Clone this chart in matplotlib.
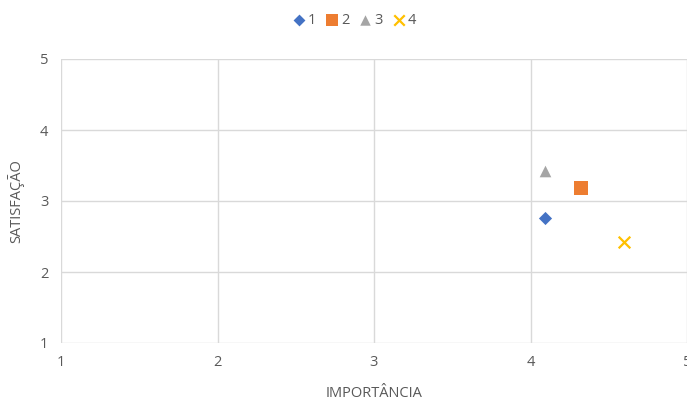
import matplotlib.pyplot as plt

plt.rcParams['font.family'] = ['Open Sans', 'DejaVu Sans']

# dados
series = ['1', '2', '3', '4']
importancia = [4.09, 4.32, 4.09, 4.60]
satisfacao = [2.76, 3.18, 3.42, 2.42]
markers = ['D', 's', '^', 'x']
colors = ['#4472c4', '#ed7d31', '#a5a5a5', '#ffc000']
sizes = [45, 90, 70, 70]

fig = plt.figure(figsize=(6.87, 4.03), dpi=100)
ax = fig.add_axes([61 / 687, 1 - 343 / 403, 1 - 61 / 687, (343 - 59) / 403])

for s, x, y, m, c, sz in zip(series, importancia, satisfacao, markers, colors, sizes):
    lw = 1.6 if m == 'x' else 0
    ax.scatter([x], [y], marker=m, s=sz, color=c, linewidths=lw, label=s, zorder=3)

ax.set_xlim(1, 5)
ax.set_ylim(1, 5)
ax.set_xticks([1, 2, 3, 4, 5])
ax.set_yticks([1, 2, 3, 4, 5])
ax.grid(True, color='#d9d9d9', linewidth=1)
ax.set_axisbelow(True)
for sp in ax.spines.values():
    sp.set_visible(False)
ax.tick_params(length=0, colors='#595959', labelsize=10.5, pad=9)

ax.set_xlabel('IMPORTÂNCIA', color='#595959', fontsize=10.5, labelpad=11)
ax.set_ylabel('SATISFAÇÃO', color='#595959', fontsize=10.5, labelpad=11)

fig.legend(loc='upper center', bbox_to_anchor=(0.515, 1.0), ncol=4, frameon=False,
           handletextpad=0.1, columnspacing=0.6, fontsize=10.5, labelcolor='#595959',
           handlelength=1.0, markerscale=0.9)

fig.savefig('out.png', dpi=100)
